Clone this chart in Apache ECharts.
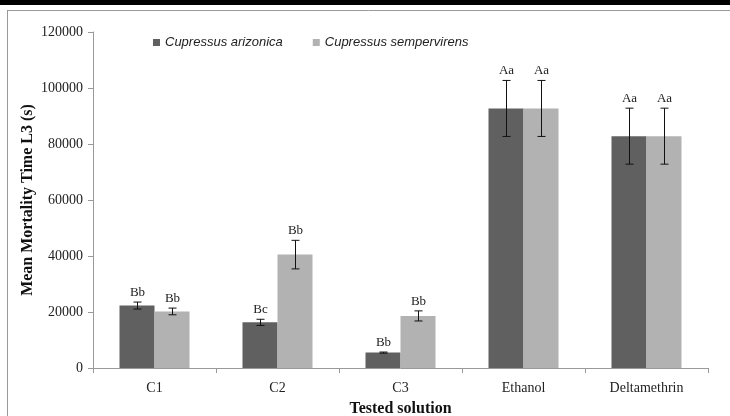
<!DOCTYPE html>
<html lang="en">
<head>
<meta charset="UTF-8">
<title>Mean Mortality Time L3</title>
<script src="https://cdn.jsdelivr.net/npm/echarts@6/dist/echarts.min.js"></script>
<style>
  body { margin: 0; padding: 0; background: #fff; }
  #main { width: 730px; height: 416px; }
</style>
</head>
<body>
<div id="main"></div>
<script>
var categories = ['C1', 'C2', 'C3', 'Ethanol', 'Deltamethrin'];
var arizonica = [22300, 16300, 5500, 92700, 82800];
var arizonicaErr = [1250, 1100, 200, 10000, 10000];
var arizonicaTag = ['Bb', 'Bc', 'Bb', 'Aa', 'Aa'];
var sempervirens = [20200, 40500, 18600, 92700, 82800];
var sempervirensErr = [1200, 5100, 1800, 10000, 10000];
var sempervirensTag = ['Bb', 'Bb', 'Bb', 'Aa', 'Aa'];

var barW = 35;
var serif = 'Liberation Serif';

// error bar + letter label, drawn through the axis scales
function errorSeries(name, values, errs, tags, shift) {
    var data = [];
    for (var i = 0; i < values.length; i++) {
        data.push([i, values[i], errs[i]]);
    }
    return {
        name: name + ' err',
        type: 'custom',
        z: 10,
        data: data,
        renderItem: function (params, api) {
            var i = api.value(0);
            var v = api.value(1);
            var e = api.value(2);
            var hi = api.coord([i, v + e]);
            var lo = api.coord([i, v - e]);
            var x = Math.round(hi[0] + shift) + 0.5;
            return {
                type: 'group',
                children: [
                    { type: 'line', shape: { x1: x, y1: hi[1], x2: x, y2: lo[1] }, style: { stroke: '#111', lineWidth: 1 } },
                    { type: 'line', shape: { x1: x - 4, y1: hi[1], x2: x + 4, y2: hi[1] }, style: { stroke: '#111', lineWidth: 1 } },
                    { type: 'line', shape: { x1: x - 4, y1: lo[1], x2: x + 4, y2: lo[1] }, style: { stroke: '#111', lineWidth: 1 } },
                    { type: 'text', style: { x: x, y: hi[1] - 3, text: tags[i], textAlign: 'center', textVerticalAlign: 'bottom', fontFamily: serif, fontSize: 13, fill: '#222' } }
                ]
            };
        }
    };
}

var myChart = echarts.init(document.getElementById('main'));
var option = {
    backgroundColor: '#fff',
    animation: false,
    color: ['#606060', '#b2b2b2'],
    graphic: [
        { type: 'rect', shape: { x: 0, y: 0, width: 730, height: 5 }, style: { fill: '#000' } },
        { type: 'line', shape: { x1: 7, y1: 10.5, x2: 730, y2: 10.5 }, style: { stroke: '#999', lineWidth: 1 } },
        { type: 'line', shape: { x1: 7.5, y1: 10, x2: 7.5, y2: 416 }, style: { stroke: '#999', lineWidth: 1 } }
    ],
    legend: {
        top: 31,
        left: 148,
        itemWidth: 7,
        itemHeight: 7,
        itemGap: 30,
        icon: 'rect',
        data: ['Cupressus arizonica', 'Cupressus sempervirens'],
        textStyle: { fontFamily: 'Liberation Sans', fontStyle: 'italic', fontSize: 13, color: '#222' }
    },
    grid: { left: 93, right: 22, top: 32, bottom: 48, outerBoundsMode: 'none' },
    xAxis: {
        type: 'category',
        data: categories,
        name: 'Tested solution',
        nameLocation: 'middle',
        nameGap: 33,
        nameTextStyle: { fontFamily: serif, fontWeight: 'bold', fontSize: 16, color: '#111' },
        axisLine: { lineStyle: { color: '#999' } },
        axisTick: { show: true, alignWithLabel: false, length: 5, lineStyle: { color: '#999' } },
        axisLabel: { fontFamily: serif, fontSize: 14, color: '#222', margin: 13 }
    },
    yAxis: {
        type: 'value',
        min: 0,
        max: 120000,
        interval: 20000,
        name: 'Mean Mortality Time L3 (s)',
        nameLocation: 'middle',
        nameGap: 57,
        nameMoveOverlap: false,
        nameTextStyle: { fontFamily: serif, fontWeight: 'bold', fontSize: 16, color: '#111' },
        axisLine: { show: true, lineStyle: { color: '#999' } },
        axisTick: { show: true, length: 5, lineStyle: { color: '#999' } },
        splitLine: { show: false },
        axisLabel: { fontFamily: serif, fontSize: 14, color: '#222', margin: 10, formatter: function (v) { return String(v); } }
    },
    series: [
        { name: 'Cupressus arizonica', type: 'bar', barWidth: barW, barGap: '0%', data: arizonica },
        { name: 'Cupressus sempervirens', type: 'bar', barWidth: barW, barGap: '0%', data: sempervirens },
        errorSeries('Cupressus arizonica', arizonica, arizonicaErr, arizonicaTag, -barW / 2),
        errorSeries('Cupressus sempervirens', sempervirens, sempervirensErr, sempervirensTag, barW / 2)
    ]
};
myChart.setOption(option);
</script>
</body>
</html>
